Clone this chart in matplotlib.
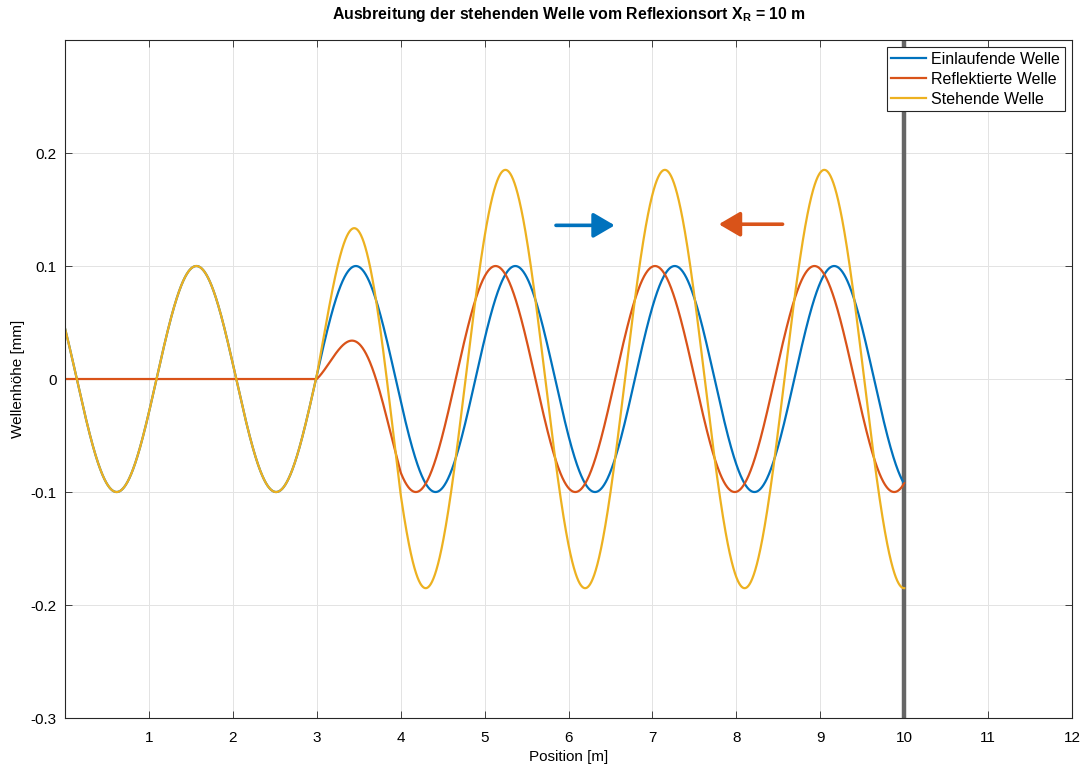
import numpy as np
import matplotlib.pyplot as plt

plt.rcParams['font.family'] = ['Liberation Sans', 'DejaVu Sans']
plt.rcParams['mathtext.fontset'] = 'custom'
plt.rcParams['mathtext.rm'] = 'Liberation Sans'
plt.rcParams['mathtext.bf'] = 'Liberation Sans:bold'
plt.rcParams['axes.unicode_minus'] = False

# --- wave parameters ---
amplitude = 0.1          # mm
wavelength = 1.9         # m
incident_crest = 1.565   # a crest of the incoming wave [m]
reflected_crest = 8.93   # a crest of the reflected wave [m]
reflected_front = 3.0    # where the reflected wave has got to [m]
front_ramp = 1.0         # length of the soft front [m]
x_reflect = 10.0         # reflection point X_R [m]

x_ticks = [1, 2, 3, 4, 5, 6, 7, 8, 9, 10, 11, 12]
y_ticks = [-0.3, -0.2, -0.1, 0.0, 0.1, 0.2]
y_ticklabels = ['-0.3', '-0.2', '-0.1', '0', '0.1', '0.2']
labels = ['Einlaufende Welle', 'Reflektierte Welle', 'Stehende Welle']
colors = ['#0072BD', '#D95319', '#EDB120']

# --- curves ---
x = np.linspace(0, x_reflect, 3001)
k = 2 * np.pi / wavelength
y_in = amplitude * np.cos(k * (x - incident_crest))
envelope = np.clip((x - reflected_front) / front_ramp, 0, 1)
y_ref = envelope * amplitude * np.cos(k * (x - reflected_crest))
y_sum = y_in + y_ref

fig = plt.figure(figsize=(10.86, 7.64), dpi=100)
ax = fig.add_axes([0.0599, 0.0602, 0.9273, 0.8874])

for y, lab, c in zip([y_in, y_ref, y_sum], labels, colors):
    ax.plot(x, y, color=c, lw=1.6, label=lab)

ax.axvline(x_reflect, color='#666666', lw=3.2, zorder=1)

# direction arrows
arrow_style = '-|>,head_length=0.65,head_width=0.38'
ax.annotate("", xy=(6.55, 0.136), xytext=(5.85, 0.136),
            arrowprops=dict(arrowstyle=arrow_style, lw=2.6, color=colors[0],
                            mutation_scale=20, shrinkA=0, shrinkB=0))
ax.annotate("", xy=(7.79, 0.137), xytext=(8.55, 0.137),
            arrowprops=dict(arrowstyle=arrow_style, lw=2.6, color=colors[1],
                            mutation_scale=20, shrinkA=0, shrinkB=0))

ax.set_xlim(0, 12)
ax.set_ylim(-0.3, 0.3)
ax.set_xticks(x_ticks)
ax.set_yticks(y_ticks)
ax.set_yticklabels(y_ticklabels)
ax.tick_params(direction='in', length=5, width=0.6, color='#262626',
               labelsize=11, top=True, right=True)
ax.tick_params(axis='x', pad=9)
ax.tick_params(axis='y', pad=6)
ax.grid(True, color='#e3e3e3', lw=0.7)
ax.set_axisbelow(True)
for s in ax.spines.values():
    s.set_color('#262626')
    s.set_linewidth(0.8)

ax.set_xlabel('Position [m]', fontsize=11, labelpad=4)
ax.set_ylabel('Wellenhöhe [mm]', fontsize=11, labelpad=4)
ax.set_title(r'Ausbreitung der stehenden Welle vom Reflexionsort X$_\mathbf{R}$ = 10 m',
             fontsize=11.4, fontweight='bold', pad=15)

leg = ax.legend(loc='upper right', fontsize=11.5, fancybox=False, framealpha=1,
                edgecolor='#262626', borderaxespad=0.45, handlelength=2.2,
                handletextpad=0.3, labelspacing=0.3, borderpad=0.3)
leg.get_frame().set_linewidth(0.8)

fig.savefig('out.png', dpi=100)
